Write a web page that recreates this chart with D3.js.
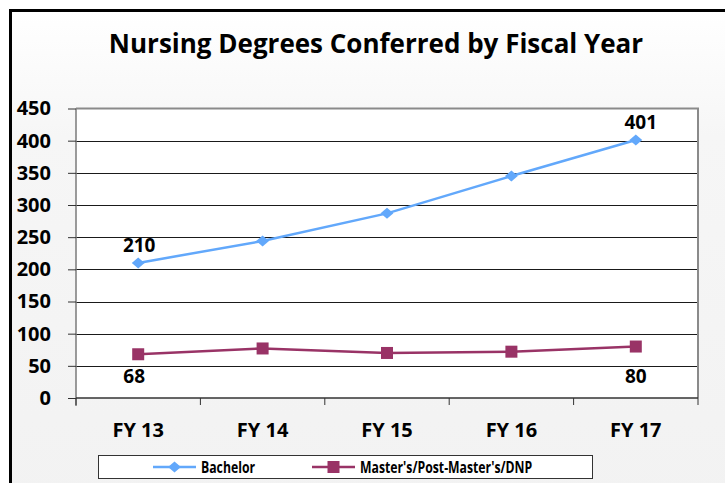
<!DOCTYPE html>
<html>
<head>
<meta charset="utf-8">
<script src="https://cdn.jsdelivr.net/npm/d3@7"></script>
<style>
  html, body { margin: 0; padding: 0; background: #ffffff; }
  svg { display: block; }
  text { font-family: "Open Sans", "Liberation Sans", sans-serif; font-weight: bold; fill: #000; }
</style>
</head>
<body>
<svg id="chart" width="725" height="483"></svg>
<script>
// Fiscal years on the category axis
const fiscalYears = ["FY 13", "FY 14", "FY 15", "FY 16", "FY 17"];
// Degrees conferred per year
const bachelorValues = [210, 244, 287, 345, 401];
const mastersValues = [68, 77, 70, 72, 80];
// Series names shown in the legend
const seriesNames = ["Bachelor", "Master's/Post-Master's/DNP"];
// Value-axis ticks
const yTicks = [0, 50, 100, 150, 200, 250, 300, 350, 400, 450];
// Points that carry a value label
const labelledIndex = [0, 4];

const W = 725, H = 483;
const plot = { left: 76, right: 698, top: 108.5, bottom: 398 };
const blue = "#62a8fb", maroon = "#993366";

const svg = d3.select("#chart");

// soft gray chart background
const defs = svg.append("defs");
const grad = defs.append("linearGradient").attr("id", "bg").attr("x1", 0).attr("y1", 0).attr("x2", 0).attr("y2", 1);
grad.append("stop").attr("offset", "0%").attr("stop-color", "#ffffff");
grad.append("stop").attr("offset", "25%").attr("stop-color", "#f6f6f6");
grad.append("stop").attr("offset", "100%").attr("stop-color", "#f2f2f2");

svg.append("rect").attr("width", W).attr("height", H).attr("fill", "#ffffff");
svg.append("rect").attr("x", 10.5).attr("y", 10.5).attr("width", W + 20).attr("height", H + 20)
  .attr("fill", "url(#bg)").attr("stroke", "#000").attr("stroke-width", 3);

// Title
svg.append("text")
  .attr("x", 376).attr("y", 53)
  .attr("text-anchor", "middle")
  .style("font-size", "26px")
  .text("Nursing Degrees Conferred by Fiscal Year");

const x = d3.scaleBand().domain(fiscalYears).range([plot.left, plot.right]);
const y = d3.scaleLinear().domain([0, 450]).range([plot.bottom, plot.top]);
const cx = d => x(d) + x.bandwidth() / 2;

// Plot area
svg.append("rect")
  .attr("x", plot.left).attr("y", plot.top)
  .attr("width", plot.right - plot.left).attr("height", plot.bottom - plot.top)
  .attr("fill", "#ffffff");

// Horizontal gridlines
svg.append("g").selectAll("line")
  .data(yTicks.filter(t => t > 0 && t < 450))
  .join("line")
  .attr("x1", plot.left).attr("x2", plot.right)
  .attr("y1", d => Math.round(y(d)) + 0.5).attr("y2", d => Math.round(y(d)) + 0.5)
  .attr("stroke", "#1a1a1a").attr("stroke-width", 1);

// Plot border top and right
svg.append("path")
  .attr("d", `M${plot.left},${plot.top}H${plot.right}V${plot.bottom}`)
  .attr("fill", "none").attr("stroke", "#8a8a8a").attr("stroke-width", 2);

// Value axis
const yAxis = svg.append("g")
  .attr("transform", `translate(${plot.left},0)`)
  .call(d3.axisLeft(y).tickValues(yTicks).tickSize(8).tickPadding(17));
yAxis.select(".domain").attr("stroke", "#7a7a7a").attr("stroke-width", 1.5)
  .attr("d", `M0,${plot.top}V${plot.bottom + 8}`);
yAxis.selectAll(".tick line").attr("stroke", "#333");
yAxis.selectAll(".tick text")
  .style("font-size", "20px").style("font-family", "'Open Sans', sans-serif").style("font-weight", "bold")
  .attr("fill", "#000");

// Category axis with ticks between categories
const xAxis = svg.append("g").attr("transform", `translate(0,${plot.bottom})`);
xAxis.append("line").attr("x1", plot.left).attr("x2", plot.right)
  .attr("stroke", "#333").attr("stroke-width", 1.5);
const bounds = fiscalYears.map(d => x(d)).concat([x(fiscalYears[fiscalYears.length - 1]) + x.bandwidth()]);
xAxis.selectAll("line.tk").data(bounds).join("line").attr("class", "tk")
  .attr("x1", d => d).attr("x2", d => d).attr("y1", 0).attr("y2", 7)
  .attr("stroke", "#333").attr("stroke-width", 1);
xAxis.selectAll("text").data(fiscalYears).join("text")
  .attr("x", d => cx(d)).attr("y", 39)
  .attr("text-anchor", "middle").style("font-size", "20px")
  .text(d => d);

// Series lines
const line = d3.line().x((d, i) => cx(fiscalYears[i])).y(d => y(d));
svg.append("path").datum(bachelorValues).attr("d", line)
  .attr("fill", "none").attr("stroke", blue).attr("stroke-width", 2.5);
svg.append("path").datum(mastersValues).attr("d", line)
  .attr("fill", "none").attr("stroke", maroon).attr("stroke-width", 2.5);

// Markers
const diamond = d3.symbol().type(d3.symbolDiamond2).size(95);
svg.append("g").selectAll("path").data(bachelorValues).join("path")
  .attr("d", diamond)
  .attr("transform", (d, i) => `translate(${cx(fiscalYears[i])},${y(d)}) scale(1.05,0.9)`)
  .attr("fill", blue);
svg.append("g").selectAll("rect").data(mastersValues).join("rect")
  .attr("x", (d, i) => cx(fiscalYears[i]) - 6).attr("y", d => y(d) - 6)
  .attr("width", 12).attr("height", 12).attr("fill", maroon);

// Value labels: Bachelor above, Master's near the axis
svg.append("g").selectAll("text").data(labelledIndex).join("text")
  .attr("x", i => cx(fiscalYears[i]) + (i === 4 ? 5 : 1)).attr("y", i => y(bachelorValues[i]) - 11)
  .attr("text-anchor", "middle").style("font-size", "19px")
  .text(i => bachelorValues[i]);
svg.append("g").selectAll("text").data(labelledIndex).join("text")
  .attr("x", i => cx(fiscalYears[i]) - (i === 0 ? 4 : 0)).attr("y", y(0) - 15)
  .attr("text-anchor", "middle").style("font-size", "19px")
  .text(i => mastersValues[i]);

// Legend
const lg = svg.append("g");
lg.append("rect").attr("x", 98.5).attr("y", 455.5).attr("width", 494).attr("height", 23)
  .attr("fill", "#ffffff").attr("stroke", "#333").attr("stroke-width", 1);
const legendItems = [
  { name: seriesNames[0], color: blue, x0: 153, shape: "diamond" },
  { name: seriesNames[1], color: maroon, x0: 312, shape: "square" }
];
legendItems.forEach(it => {
  const ly = 467;
  lg.append("line").attr("x1", it.x0).attr("x2", it.x0 + 43).attr("y1", ly).attr("y2", ly)
    .attr("stroke", it.color).attr("stroke-width", 2.5);
  if (it.shape === "diamond") {
    lg.append("path").attr("d", diamond).attr("transform", `translate(${it.x0 + 21.5},${ly}) scale(1.05,0.9)`).attr("fill", it.color);
  } else {
    lg.append("rect").attr("x", it.x0 + 15.5).attr("y", ly - 6).attr("width", 12).attr("height", 12).attr("fill", it.color);
  }
  // condensed label text
  lg.append("text").attr("transform", `translate(${it.x0 + 48},${ly + 5.5}) scale(0.79,1)`)
    .style("font-size", "15.5px")
    .text(it.name);
});
</script>
</body>
</html>
